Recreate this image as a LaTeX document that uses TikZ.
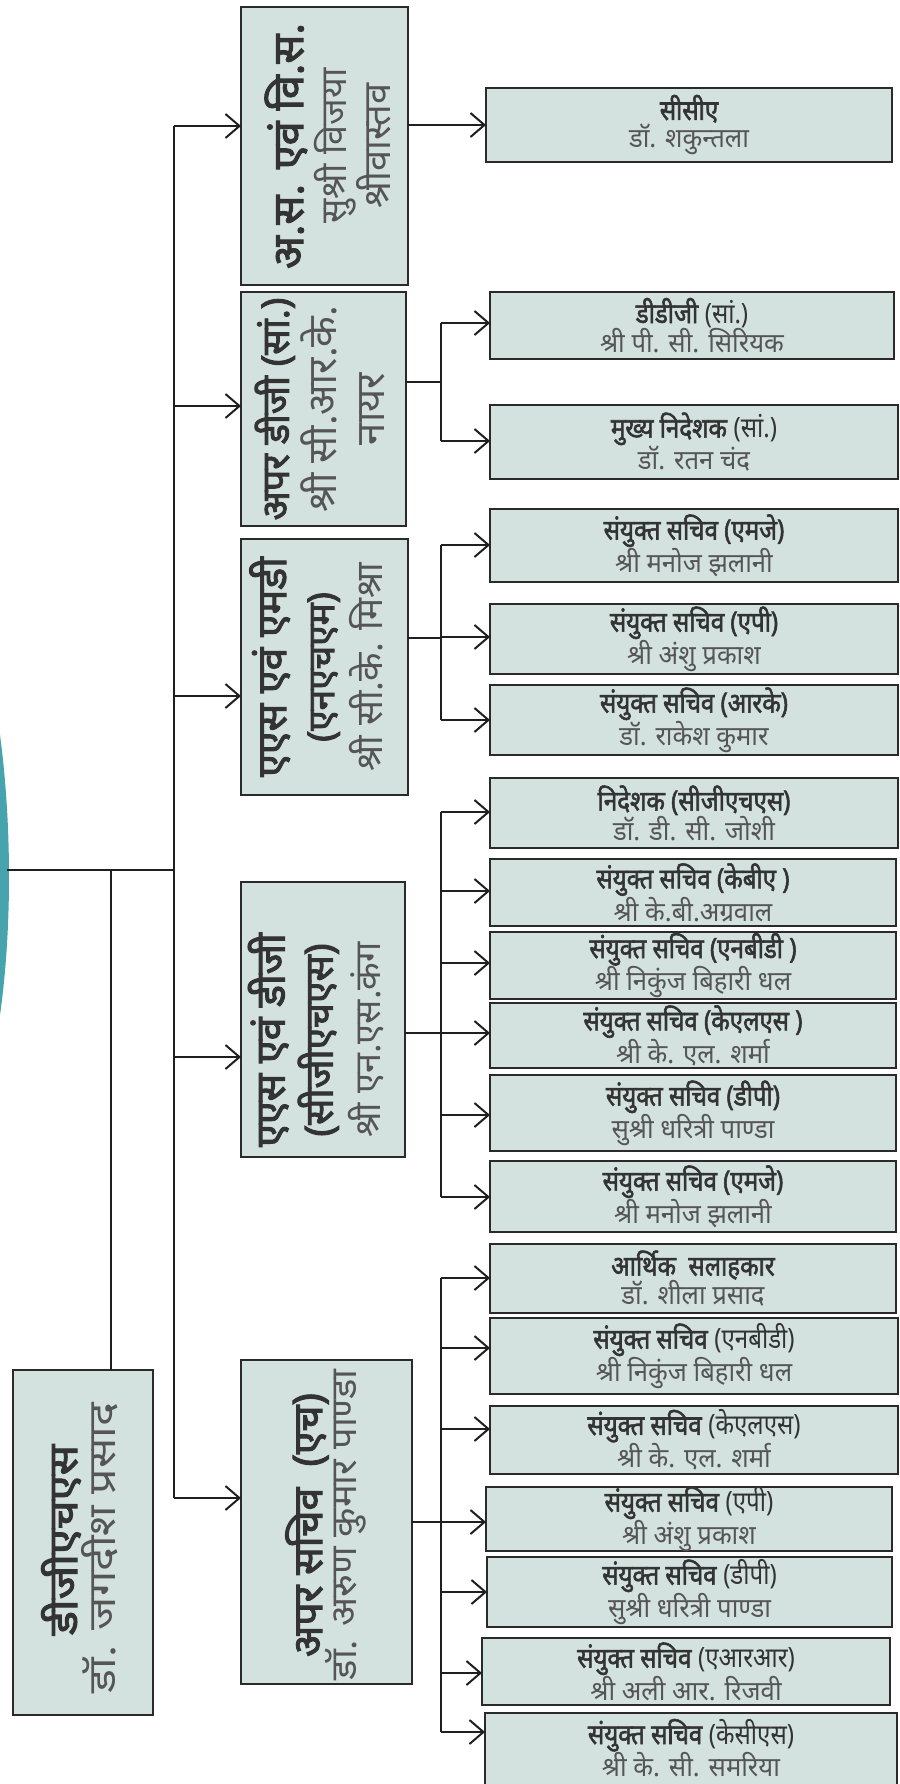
\documentclass[tikz,border=0pt]{standalone}
\usepackage{fontspec}
\newfontfamily\dev[Script=Devanagari,FakeStretch=0.86,BoldFont={Noto Sans},BoldFeatures={FakeBold=2}]{Noto Sans}
\newfontfamily\devN[Script=Devanagari,FakeStretch=0.95]{Noto Sans}
\newfontfamily\devV[Script=Devanagari,BoldFont={Noto Sans},BoldFeatures={FakeBold=2.5}]{Noto Sans}
\usetikzlibrary{arrows.meta}
\definecolor{boxfill}{HTML}{D3E2DE}
\definecolor{boxline}{HTML}{2A2A2A}
\definecolor{ttl}{HTML}{333333}
\definecolor{nm}{HTML}{555555}
\definecolor{tealc}{HTML}{47A3AE}
\tikzset{
  orgbox/.style={draw=boxline, line width=2.5pt, fill=boxfill, inner sep=0pt, outer sep=0pt},
  rtext/.style={align=center, font=\devN\fontsize{27}{28}\selectfont, text=nm, inner sep=0pt},
  vtext/.style={align=center, rotate=90, inner sep=0pt, text=nm},
  conn/.style={draw=black!88, line width=2pt},
  arr/.style={conn, -{Straight Barb[length=14pt,width=24pt,line width=2pt]}},
}
\newcommand\ttB[1]{{\dev\fontsize{28}{28}\selectfont\bfseries\color{ttl}#1}}
\newcommand\ttR[1]{{\dev\fontsize{28}{28}\selectfont\color{ttl}#1}}
\newcommand\vB[2]{{\fontsize{#1}{#1}\selectfont\bfseries\color{ttl}#2}}
\newcommand\vR[2]{{\fontsize{#1}{#1}\selectfont #2}}
\newcommand\orgnode[5]{%
  \node[orgbox, minimum width={#3-#2}, minimum height={#5-#4}] (#1) at ({(#2+#3)/2},{(#4+#5)/2}) {};}
\newcommand\rbox[6]{%
  \orgnode{#1}{#2}{#3}{#4}{#5}
  \node[rtext] (#1t) at (#1.center) {#6};}
\begin{document}
\begin{tikzpicture}[x=1pt,y=-1pt]
\useasboundingbox (0,0) rectangle (899,1784);
% teal arc at left edge
\fill[tealc] (0,735) .. controls (12,825) and (12,930) .. (0,1015) -- cycle;

% left-column boxes
\orgnode{b1}{241}{408}{7}{285}
\orgnode{b2}{241}{406}{292}{526}
\orgnode{b3}{241}{408}{539}{795}
\orgnode{b4}{241}{405}{882}{1157}
\orgnode{b5}{241}{412}{1360}{1684}
\orgnode{dg}{13}{153}{1370}{1715}

\node[vtext, font=\devV\fontsize{36}{43}\selectfont] (b1t) at (328,146) {\vB{43}{अ.स. एवं वि.स.}\\\vR{36}{सुश्री विजया}\\\vR{38}{श्रीवास्तव}};
\node[vtext, font=\devV\fontsize{38}{48}\selectfont] (b2t) at (320,409) {\vB{38}{अपर डीजी (सां.)}\\\vR{40}{श्री सी.आर.के.}\\\vR{40}{नायर}};
\node[vtext, font=\devV\fontsize{37}{48}\selectfont] (b3t) at (316,667) {\vB{41}{एएस एवं एमडी}\\\vB{37}{(एनएचएम)}\\\vR{37}{श्री सी.के. मिश्रा}};
\node[vtext, font=\devV\fontsize{36}{48}\selectfont] (b4t) at (316,1040) {\vB{41}{एएस एवं डीजी}\\\vB{39}{(सीजीएचएस)}\\\vR{36}{श्री एन.एस.कंग}};
\node[vtext, font=\devV] (b5t) at (307,1525) {\vB{41}{अपर सचिव\ \ (एच)}};
\node[vtext, font=\devV] (b5n) at (346,1525) {\vR{36}{\scalebox{1.06}[1]{डॉ. अरुण कुमार पाण्डा}}};
\node[vtext, font=\devV] (dgt) at (61,1540) {\vB{40}{\scalebox{1.13}[1]{डीजीएचएस}}};
\node[vtext, font=\devV] (dgn) at (100,1548) {\vR{38}{\scalebox{1.18}[1]{डॉ. जगदीश प्रसाद}}};

% right-column boxes
\rbox{r1}{486}{892}{88}{162}{\ttB{सीसीए}\\डॉ. शकुन्तला}
\rbox{r2}{490}{894}{292}{359}{\ttB{डीडीजी} \ttR{(सां.)}\\श्री पी. सी. सिरियक}
\rbox{r3}{490}{898}{405}{479}{\ttB{मुख्य निदेशक} \ttR{(सां.)}\\डॉ. रतन चंद}
\rbox{r4}{490}{898}{509}{582}{\ttB{संयुक्त सचिव (एमजे)}\\श्री मनोज झलानी}
\rbox{r5}{490}{898}{604}{674}{\ttB{संयुक्त सचिव (एपी)}\\श्री अंशु प्रकाश}
\rbox{r6}{490}{898}{685}{755}{\ttB{संयुक्त सचिव (आरके)}\\डॉ. राकेश कुमार}
\rbox{r7}{490}{898}{778}{848}{\ttB{निदेशक (सीजीएचएस)}\\डॉ. डी. सी. जोशी}
\rbox{r8}{490}{896}{859}{926}{\ttB{संयुक्त सचिव (केबीए )}\\श्री के.बी.अग्रवाल}
\rbox{r9}{490}{896}{932}{999}{\ttB{संयुक्त सचिव (एनबीडी )}\\श्री निकुंज बिहारी धल}
\rbox{r10}{490}{896}{1003}{1068}{\ttB{संयुक्त सचिव (केएलएस )}\\श्री के. एल. शर्मा}
\rbox{r11}{490}{896}{1075}{1151}{\ttB{संयुक्त सचिव (डीपी)}\\सुश्री धरित्री पाण्डा}
\rbox{r12}{490}{896}{1161}{1232}{\ttB{संयुक्त सचिव (एमजे)}\\श्री मनोज झलानी}
\rbox{r13}{490}{896}{1244}{1313}{\ttB{आर्थिक\ \ सलाहकार}\\डॉ. शीला प्रसाद}
\rbox{r14}{490}{898}{1318}{1394}{\ttB{संयुक्त सचिव} \ttR{(एनबीडी)}\\श्री निकुंज बिहारी धल}
\rbox{r15}{490}{898}{1406}{1474}{\ttB{संयुक्त सचिव} \ttR{(केएलएस)}\\श्री के. एल. शर्मा}
\rbox{r16}{486}{892}{1487}{1551}{\ttB{संयुक्त सचिव} \ttR{(एपी)}\\श्री अंशु प्रकाश}
\rbox{r17}{487}{892}{1557}{1627}{\ttB{संयुक्त सचिव} \ttR{(डीपी)}\\सुश्री धरित्री पाण्डा}
\rbox{r18}{482}{890}{1638}{1705}{\ttB{संयुक्त सचिव} \ttR{(एआरआर)}\\श्री अली आर. रिजवी}
\orgnode{r19}{485}{897}{1713}{1792}
\node[rtext] (r19t) at (691,1748) {\ttB{संयुक्त सचिव} \ttR{(केसीएस)}\\श्री के. सी. समरिया};

% main bus
\coordinate (m1) at (174,126);
\coordinate (m2) at (174,406);
\coordinate (m3) at (174,696);
\coordinate (m0) at (174,870);
\coordinate (m4) at (174,1057);
\coordinate (m5) at (174,1498);
\coordinate (h0) at (7,870);
\coordinate (hj) at (111,870);
\draw[conn] (m1) -- (m5);
\draw[conn] (h0) -- (m0);
\draw[conn] (hj) -- (hj |- dg.north);
\draw[arr] (m1) -- (m1 -| b1.west);
\draw[arr] (m2) -- (m2 -| b2.west);
\draw[arr] (m3) -- (m3 -| b3.west);
\draw[arr] (m4) -- (m4 -| b4.west);
\draw[arr] (m5) -- (m5 -| b5.west);

% group 1
\draw[arr] (r1 -| b1.east) -- (r1.west);

% group outputs
\coordinate (o2) at (441,382);
\coordinate (o3) at (441,638);
\coordinate (o4) at (441,1033);
\coordinate (o5) at (441,1522);
\draw[conn] (o2 -| b2.east) -- (o2);
\draw[conn] (o3 -| b3.east) -- (o3);
\draw[conn] (o4 -| b4.east) -- (o4);
\draw[conn] (o5 -| b5.east) -- (o5);

% sub-bus arrow points
\coordinate (a2) at (441,323);
\coordinate (a3) at (441,441);
\coordinate (a4) at (441,545);
\coordinate (a5) at (441,637);
\coordinate (a6) at (441,720);
\coordinate (a7) at (441,812);
\coordinate (a8) at (441,891);
\coordinate (a9) at (441,963);
\coordinate (a10) at (441,1033);
\coordinate (a11) at (441,1115);
\coordinate (a12) at (441,1197);
\coordinate (a13) at (441,1278);
\coordinate (a14) at (441,1348);
\coordinate (a15) at (441,1429);
\coordinate (a16) at (441,1522);
\coordinate (a17) at (441,1592);
\coordinate (a18) at (441,1673);
\coordinate (a19) at (441,1732);
\draw[conn] (a2) -- (a3);
\draw[conn] (a4) -- (a6);
\draw[conn] (a7) -- (a12);
\draw[conn] (a13) -- (a19);
\foreach \k in {2,...,19}{
  \draw[arr] (a\k) -- (a\k -| r\k.west);
}
\end{tikzpicture}
\end{document}
